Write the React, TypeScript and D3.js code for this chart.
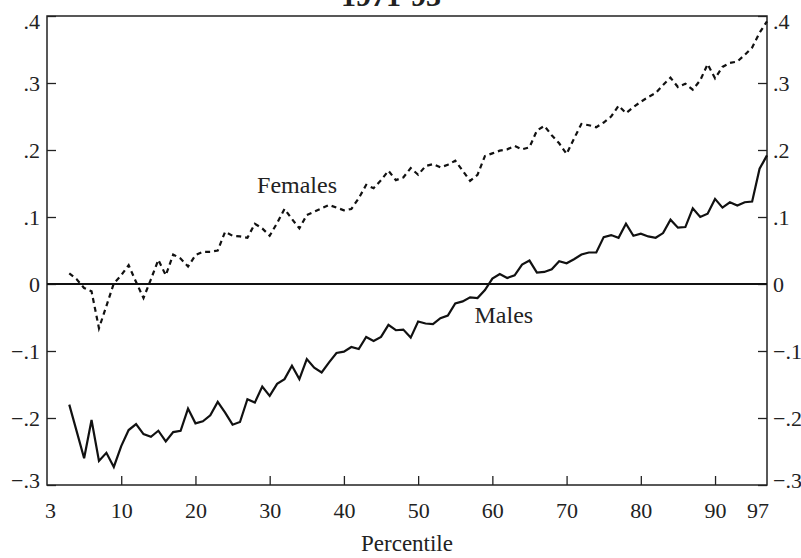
import React, { useRef, useEffect } from "react";
import * as d3 from "d3";

// percentile categories 3..97
const percentiles: number[] = d3.range(3, 98);

const males: number[] = [
  -0.180, -0.220, -0.260, -0.203, -0.264, -0.252, -0.273, -0.242, -0.218, -0.209,
  -0.224, -0.228, -0.219, -0.235, -0.221, -0.219, -0.186, -0.208, -0.205, -0.196,
  -0.176, -0.192, -0.210, -0.206, -0.172, -0.177, -0.153, -0.167, -0.149, -0.142,
  -0.122, -0.142, -0.112, -0.125, -0.132, -0.117, -0.103, -0.101, -0.094, -0.097,
  -0.079, -0.085, -0.079, -0.061, -0.069, -0.068, -0.080, -0.056, -0.059, -0.060,
  -0.051, -0.047, -0.029, -0.026, -0.020, -0.021, -0.009, 0.008, 0.015, 0.009,
  0.013, 0.029, 0.035, 0.017, 0.018, 0.022, 0.034, 0.031, 0.037, 0.044,
  0.047, 0.047, 0.070, 0.073, 0.069, 0.090, 0.072, 0.075, 0.071, 0.069,
  0.076, 0.096, 0.084, 0.085, 0.113, 0.100, 0.105, 0.127, 0.114, 0.122,
  0.117, 0.122, 0.123, 0.172, 0.192,
];

const females: number[] = [
  0.016, 0.007, -0.006, -0.011, -0.066, -0.033, 0.001, 0.013, 0.028, 0.003,
  -0.021, 0.007, 0.036, 0.013, 0.044, 0.038, 0.026, 0.043, 0.048, 0.048,
  0.050, 0.078, 0.072, 0.071, 0.069, 0.090, 0.083, 0.072, 0.091, 0.112,
  0.097, 0.083, 0.103, 0.108, 0.113, 0.118, 0.114, 0.110, 0.112, 0.128,
  0.148, 0.143, 0.155, 0.169, 0.155, 0.159, 0.173, 0.163, 0.176, 0.179,
  0.174, 0.178, 0.184, 0.169, 0.154, 0.163, 0.191, 0.195, 0.199, 0.201,
  0.206, 0.201, 0.204, 0.229, 0.236, 0.222, 0.210, 0.194, 0.217, 0.239,
  0.237, 0.234, 0.241, 0.250, 0.266, 0.255, 0.264, 0.272, 0.279, 0.285,
  0.297, 0.308, 0.294, 0.299, 0.290, 0.304, 0.328, 0.307, 0.324, 0.330,
  0.332, 0.342, 0.353, 0.375, 0.392,
];

const yTicks: number[] = [-0.3, -0.2, -0.1, 0, 0.1, 0.2, 0.3, 0.4];
const xTicks: number[] = [10, 20, 30, 40, 50, 60, 70, 80, 90];
const xEdgeLabels: string[] = ["3", "97"];

const title = "1971-93";
const xTitle = "Percentile";

const W = 801;
const H = 558;
const FONT = "'Liberation Serif', 'Times New Roman', serif";
const INK = "#222";
const TICK_FS = 22;

const fmtY = (v: number) => {
  if (Math.abs(v) < 1e-9) return "0";
  const s = d3.format(".1f")(v);
  return s.replace("0.", ".");
};

export default function App() {
  const svgRef = useRef<SVGSVGElement>(null);

  useEffect(() => {
    const svg = d3.select(svgRef.current);
    svg.selectAll("*").remove();

    const x = d3.scaleLinear().domain([0, 97]).range([47, 767]);
    const y = d3.scaleLinear().domain([-0.3, 0.4]).range([485, 16]);

    // title (cut at the top like the original)
    svg.append("text")
      .attr("x", 391).attr("y", 6)
      .attr("text-anchor", "middle")
      .attr("font-family", FONT).attr("font-weight", "bold")
      .attr("font-size", 30).attr("fill", INK)
      .text(title);

    // left axis
    const left = svg.append("g").attr("transform", `translate(${x.range()[0]},0)`)
      .call(d3.axisLeft(y).tickValues(yTicks).tickSize(-9).tickPadding(7).tickFormat((d: any) => fmtY(d)));
    // right axis
    const right = svg.append("g").attr("transform", `translate(${x.range()[1]},0)`)
      .call(d3.axisRight(y).tickValues(yTicks).tickSize(-9).tickPadding(6).tickFormat((d: any) => fmtY(d)));
    // bottom axis
    const bottom = svg.append("g").attr("transform", `translate(0,${y.range()[0]})`)
      .call(d3.axisBottom(x).tickValues(xTicks).tickSize(-9).tickPadding(17).tickFormat(d3.format("d")));

    [left, right, bottom].forEach((g) => {
      g.select(".domain").remove();
      g.selectAll("line").attr("stroke", INK).attr("stroke-width", 1.3);
      g.selectAll("text")
        .attr("font-family", FONT).attr("font-size", TICK_FS).attr("fill", INK);
    });
    // nudge edge labels inward
    [left, right].forEach((g) => {
      g.selectAll<SVGTextElement, number>("text")
        .attr("y", (d) => (d === 0.4 ? 5 : d === -0.3 ? -5 : 0));
    });

    // edge labels of the x axis
    bottom.append("text")
      .attr("x", x.range()[0] - 2).attr("y", 17).attr("dy", "0.71em")
      .attr("text-anchor", "start")
      .attr("font-family", FONT).attr("font-size", TICK_FS).attr("fill", INK)
      .text(xEdgeLabels[0]);
    bottom.append("text")
      .attr("x", x.range()[1] + 2).attr("y", 17).attr("dy", "0.71em")
      .attr("text-anchor", "end")
      .attr("font-family", FONT).attr("font-size", TICK_FS).attr("fill", INK)
      .text(xEdgeLabels[1]);

    // frame
    svg.append("rect")
      .attr("x", x.range()[0]).attr("y", y.range()[1])
      .attr("width", x.range()[1] - x.range()[0])
      .attr("height", y.range()[0] - y.range()[1])
      .attr("fill", "none").attr("stroke", INK).attr("stroke-width", 1.5);

    // zero line
    svg.append("line")
      .attr("x1", x.range()[0]).attr("x2", x.range()[1])
      .attr("y1", y(0)).attr("y2", y(0))
      .attr("stroke", "#111").attr("stroke-width", 2);

    const mk = d3.line<number>()
      .x((_, i) => x(percentiles[i]))
      .y((v) => y(v));

    svg.append("path")
      .attr("d", mk(females))
      .attr("fill", "none").attr("stroke", "#111")
      .attr("stroke-width", 2.2).attr("stroke-dasharray", "5,4");

    svg.append("path")
      .attr("d", mk(males))
      .attr("fill", "none").attr("stroke", "#111")
      .attr("stroke-width", 2.2).attr("stroke-linejoin", "miter");

    // series labels
    svg.append("text")
      .attr("x", x(28.3)).attr("y", y(0.136))
      .attr("font-family", FONT).attr("font-size", 24).attr("fill", INK)
      .text("Females");
    svg.append("text")
      .attr("x", x(57.6)).attr("y", y(-0.058))
      .attr("font-family", FONT).attr("font-size", 24).attr("fill", INK)
      .text("Males");

    // x title
    svg.append("text")
      .attr("x", (x.range()[0] + x.range()[1]) / 2).attr("y", 551)
      .attr("text-anchor", "middle")
      .attr("font-family", FONT).attr("font-size", 23).attr("fill", INK)
      .text(xTitle);
  }, []);

  return (
    <svg
      ref={svgRef}
      width={W}
      height={H}
      style={{ position: "absolute", left: 0, top: 0, background: "#fff" }}
    />
  );
}
